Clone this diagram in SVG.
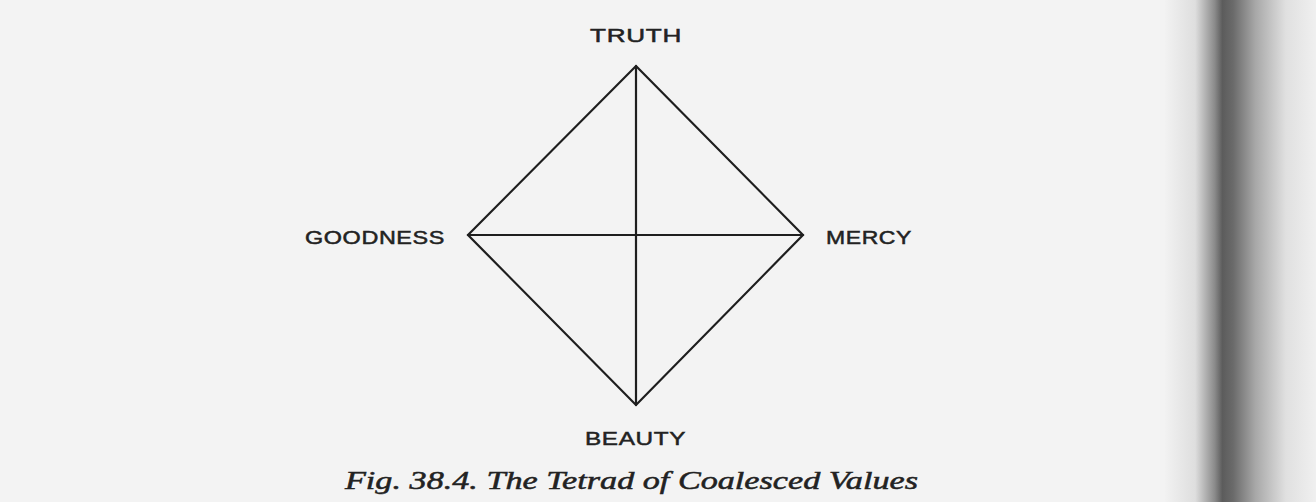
<svg xmlns="http://www.w3.org/2000/svg" width="1316" height="502" viewBox="0 0 1316 502">
<defs>
<linearGradient id="gutter" x1="0" y1="0" x2="1" y2="0">
<stop offset="0" stop-color="#f2f2f2"/>
<stop offset="0.2" stop-color="#dedede"/>
<stop offset="0.33" stop-color="#8a8a8a"/>
<stop offset="0.38" stop-color="#5c5c5c"/>
<stop offset="0.45" stop-color="#6a6a6a"/>
<stop offset="0.6" stop-color="#a8a8a8"/>
<stop offset="0.8" stop-color="#e0e0e0"/>
<stop offset="1" stop-color="#f0f0f0"/>
</linearGradient>
<style>
.edge{stroke:#1e1e1e;stroke-width:2.2;fill:none;stroke-linecap:round}
.lbl{font-family:"Liberation Sans","DejaVu Sans",sans-serif;font-size:19px;fill:#222;stroke:#222;stroke-width:0.5;letter-spacing:0.5px}
.cap{font-family:"Liberation Serif","DejaVu Serif",serif;font-style:italic;font-size:25px;fill:#222;stroke:#222;stroke-width:0.5}
</style>
</defs>
<rect x="0" y="0" width="1316" height="502" fill="#f3f3f3"/>
<rect x="1165" y="0" width="151" height="502" fill="url(#gutter)"/>
<g id="connectors">
<path class="edge" d="M636 66 L803 235 L636 405 L468 235 Z"/>
<line class="edge" x1="636" y1="66" x2="636" y2="405"/>
<line class="edge" x1="468" y1="235" x2="803" y2="235"/>
</g>
<g id="truth"><text class="lbl" x="636" y="42" text-anchor="middle" textLength="92" lengthAdjust="spacingAndGlyphs">TRUTH</text></g>
<g id="goodness"><text class="lbl" x="305" y="244" textLength="140" lengthAdjust="spacingAndGlyphs">GOODNESS</text></g>
<g id="mercy"><text class="lbl" x="826" y="244" textLength="86" lengthAdjust="spacingAndGlyphs">MERCY</text></g>
<g id="beauty"><text class="lbl" x="585" y="445" textLength="101" lengthAdjust="spacingAndGlyphs">BEAUTY</text></g>
<g id="caption"><text class="cap" x="345" y="489" textLength="573" lengthAdjust="spacingAndGlyphs">Fig. 38.4. The Tetrad of Coalesced Values</text></g>
</svg>
